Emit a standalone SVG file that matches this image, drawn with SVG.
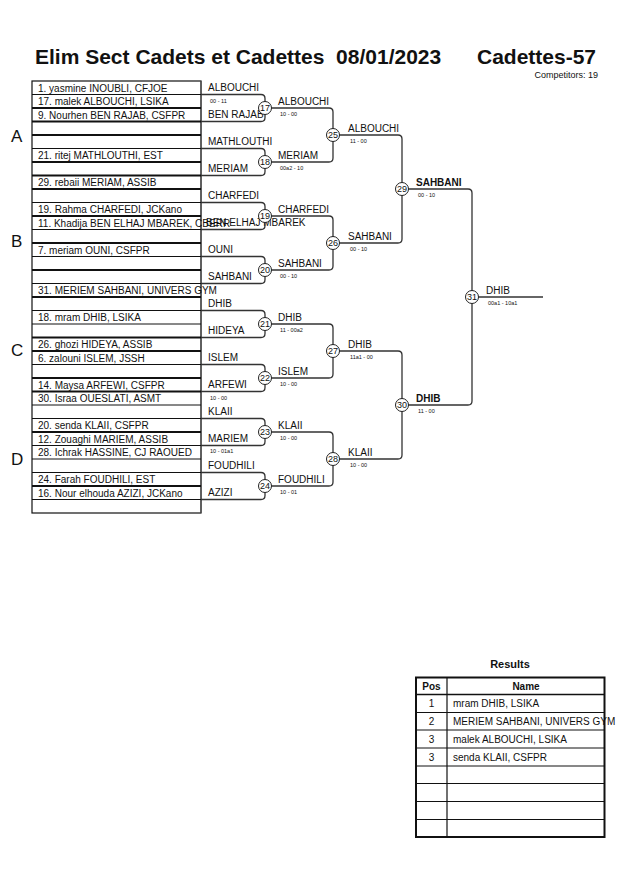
<svg xmlns="http://www.w3.org/2000/svg" width="630" height="891" viewBox="0 0 630 891">
<style>
text{font-family:"Liberation Sans",Arial,sans-serif;fill:#111}
.t{font-size:10px}
.lb{font-size:10px}
.bd{font-weight:bold}
.sc{font-size:5.5px}
.grp{font-size:17px}
.num{font-size:9px;text-anchor:middle}
.br{fill:none;stroke:#333;stroke-width:1.3}
.cir{fill:#fff;stroke:#222;stroke-width:1}
.tl{stroke:#111;stroke-width:1}
.tk{stroke:#111;stroke-width:2}
</style>
<rect width="630" height="891" fill="#fff"/>
<g id="title">
<text x="35" y="64" class="bd" style="font-size:21px;white-space:pre" xml:space="preserve">Elim Sect Cadets et Cadettes  08/01/2023</text>
<text x="477" y="64" class="bd" style="font-size:21px">Cadettes-57</text>
<text x="598" y="78" style="font-size:9px" text-anchor="end">Competitors: 19</text>
</g>
<g id="groups">
<text x="11" y="142" class="grp">A</text>
<text x="11" y="247" class="grp">B</text>
<text x="11" y="356" class="grp">C</text>
<text x="11" y="465" class="grp">D</text>
</g>
<g id="entry-table">
<rect x="32" y="81" width="169" height="432" fill="none" stroke="#111" stroke-width="1.2"/>
<line x1="201" y1="81" x2="201" y2="513" stroke="#555" stroke-width="1.2"/>
<g>
<line class="tl" x1="32" y1="94.5" x2="201" y2="94.5"/>
<line class="tk" x1="32" y1="108" x2="201" y2="108"/>
<line class="tk" x1="32" y1="121.5" x2="201" y2="121.5"/>
<line class="tk" x1="32" y1="135" x2="201" y2="135"/>
<line class="tl" x1="32" y1="148.5" x2="201" y2="148.5"/>
<line class="tk" x1="32" y1="162" x2="201" y2="162"/>
<line class="tk" x1="32" y1="175.5" x2="201" y2="175.5"/>
<line class="tk" x1="32" y1="189" x2="201" y2="189"/>
<line class="tl" x1="32" y1="202.5" x2="201" y2="202.5"/>
<line class="tk" x1="32" y1="216" x2="201" y2="216"/>
<line class="tl" x1="32" y1="229.5" x2="201" y2="229.5"/>
<line class="tk" x1="32" y1="243" x2="201" y2="243"/>
<line class="tl" x1="32" y1="256.5" x2="201" y2="256.5"/>
<line class="tk" x1="32" y1="270" x2="201" y2="270"/>
<line class="tl" x1="32" y1="283.5" x2="201" y2="283.5"/>
<line class="tk" x1="32" y1="297" x2="201" y2="297"/>
<line class="tl" x1="32" y1="310.5" x2="201" y2="310.5"/>
<line class="tl" x1="32" y1="324" x2="201" y2="324"/>
<line class="tk" x1="32" y1="337.5" x2="201" y2="337.5"/>
<line class="tk" x1="32" y1="351" x2="201" y2="351"/>
<line class="tl" x1="32" y1="364.5" x2="201" y2="364.5"/>
<line class="tk" x1="32" y1="378" x2="201" y2="378"/>
<line class="tk" x1="32" y1="391.5" x2="201" y2="391.5"/>
<line class="tl" x1="32" y1="405" x2="201" y2="405"/>
<line class="tl" x1="32" y1="418.5" x2="201" y2="418.5"/>
<line class="tk" x1="32" y1="432" x2="201" y2="432"/>
<line class="tl" x1="32" y1="445.5" x2="201" y2="445.5"/>
<line class="tl" x1="32" y1="459" x2="201" y2="459"/>
<line class="tl" x1="32" y1="472.5" x2="201" y2="472.5"/>
<line class="tk" x1="32" y1="486" x2="201" y2="486"/>
<line class="tl" x1="32" y1="499.5" x2="201" y2="499.5"/>
</g>
<g class="t">
<text x="38" y="91.5" class="t">1. yasmine INOUBLI, CFJOE</text>
<text x="38" y="105" class="t">17. malek ALBOUCHI, LSIKA</text>
<text x="38" y="118.5" class="t">9. Nourhen BEN RAJAB, CSFPR</text>
<text x="38" y="159" class="t">21. ritej MATHLOUTHI, EST</text>
<text x="38" y="186" class="t">29. rebaii MERIAM, ASSIB</text>
<text x="38" y="213" class="t">19. Rahma CHARFEDI, JCKano</text>
<text x="38" y="226.5" class="t">11. Khadija BEN ELHAJ MBAREK, CBERR</text>
<text x="38" y="253.5" class="t">7. meriam OUNI, CSFPR</text>
<text x="38" y="294" class="t">31. MERIEM SAHBANI, UNIVERS GYM</text>
<text x="38" y="321" class="t">18. mram DHIB, LSIKA</text>
<text x="38" y="348" class="t">26. ghozi HIDEYA, ASSIB</text>
<text x="38" y="361.5" class="t">6. zalouni ISLEM, JSSH</text>
<text x="38" y="388.5" class="t">14. Maysa ARFEWI, CSFPR</text>
<text x="38" y="402" class="t">30. Israa OUESLATI, ASMT</text>
<text x="38" y="429" class="t">20. senda KLAII, CSFPR</text>
<text x="38" y="442.5" class="t">12. Zouaghi MARIEM, ASSIB</text>
<text x="38" y="456" class="t">28. Ichrak HASSINE, CJ RAOUED</text>
<text x="38" y="483" class="t">24. Farah FOUDHILI, EST</text>
<text x="38" y="496.5" class="t">16. Nour elhouda AZIZI, JCKano</text>
</g>
</g>
<g id="connectors">
<path class="br" d="M201,94.5H261Q265,94.5 265,98.5V117.5Q265,121.5 261,121.5H201"/>
<path class="br" d="M201,148.5H261Q265,148.5 265,152.5V171.5Q265,175.5 261,175.5H201"/>
<path class="br" d="M201,202.5H261Q265,202.5 265,206.5V225.5Q265,229.5 261,229.5H201"/>
<path class="br" d="M201,256.5H261Q265,256.5 265,260.5V279.5Q265,283.5 261,283.5H201"/>
<path class="br" d="M201,310.5H261Q265,310.5 265,314.5V333.5Q265,337.5 261,337.5H201"/>
<path class="br" d="M201,364.5H261Q265,364.5 265,368.5V387.5Q265,391.5 261,391.5H201"/>
<path class="br" d="M201,418.5H261Q265,418.5 265,422.5V441.5Q265,445.5 261,445.5H201"/>
<path class="br" d="M201,472.5H261Q265,472.5 265,476.5V495.5Q265,499.5 261,499.5H201"/>
<path class="br" d="M271,108H329Q333,108 333,112V158Q333,162 329,162H271"/>
<path class="br" d="M271,216H329Q333,216 333,220V266Q333,270 329,270H271"/>
<path class="br" d="M271,324H329Q333,324 333,328V374Q333,378 329,378H271"/>
<path class="br" d="M271,432H329Q333,432 333,436V482Q333,486 329,486H271"/>
<path class="br" d="M339,135H398Q402,135 402,139V239Q402,243 398,243H339"/>
<path class="br" d="M339,351H398Q402,351 402,355V455Q402,459 398,459H339"/>
<path class="br" d="M408,189H468Q472,189 472,193V401Q472,405 468,405H408"/>
<path class="br" d="M478,297H543"/>
</g>
<g id="round1-labels" class="lb">
<text x="208" y="91" class="lb">ALBOUCHI</text>
<text x="210" y="103" class="sc">00 - 11</text>
<text x="208" y="118" class="lb">BEN RAJAB</text>
<text x="208" y="145" class="lb">MATHLOUTHI</text>
<text x="208" y="172" class="lb">MERIAM</text>
<text x="208" y="199" class="lb">CHARFEDI</text>
<text x="206" y="226" class="lb">BEN ELHAJ MBAREK</text>
<text x="208" y="253" class="lb">OUNI</text>
<text x="208" y="280" class="lb">SAHBANI</text>
<text x="208" y="307" class="lb">DHIB</text>
<text x="208" y="334" class="lb">HIDEYA</text>
<text x="208" y="361" class="lb">ISLEM</text>
<text x="208" y="388" class="lb">ARFEWI</text>
<text x="210" y="400" class="sc">10 - 00</text>
<text x="208" y="415" class="lb">KLAII</text>
<text x="208" y="442" class="lb">MARIEM</text>
<text x="210" y="453" class="sc">10 - 01a1</text>
<text x="208" y="469" class="lb">FOUDHILI</text>
<text x="208" y="496" class="lb">AZIZI</text>
</g>
<g id="round2-labels">
<text x="278" y="105" class="lb">ALBOUCHI</text>
<text x="280" y="116" class="sc">10 - 00</text>
<text x="278" y="159" class="lb">MERIAM</text>
<text x="280" y="170" class="sc">00a2 - 10</text>
<text x="278" y="213" class="lb">CHARFEDI</text>
<text x="278" y="267" class="lb">SAHBANI</text>
<text x="280" y="278" class="sc">00 - 10</text>
<text x="278" y="321" class="lb">DHIB</text>
<text x="280" y="332" class="sc">11 - 00a2</text>
<text x="278" y="375" class="lb">ISLEM</text>
<text x="280" y="386" class="sc">10 - 00</text>
<text x="278" y="429" class="lb">KLAII</text>
<text x="280" y="440" class="sc">10 - 00</text>
<text x="278" y="483" class="lb">FOUDHILI</text>
<text x="280" y="494" class="sc">10 - 01</text>
</g>
<g id="round3-labels">
<text x="348" y="132" class="lb">ALBOUCHI</text>
<text x="350" y="143" class="sc">11 - 00</text>
<text x="348" y="240" class="lb">SAHBANI</text>
<text x="350" y="251" class="sc">00 - 10</text>
<text x="348" y="348" class="lb">DHIB</text>
<text x="350" y="359" class="sc">11a1 - 00</text>
<text x="348" y="456" class="lb">KLAII</text>
<text x="350" y="467" class="sc">10 - 00</text>
</g>
<g id="semifinal-labels">
<text x="416" y="186" class="lb bd">SAHBANI</text>
<text x="418" y="197" class="sc">00 - 10</text>
<text x="416" y="402" class="lb bd">DHIB</text>
<text x="418" y="413" class="sc">11 - 00</text>
</g>
<g id="final-label">
<text x="486" y="294" class="lb">DHIB</text>
<text x="488" y="305" class="sc">00a1 - 10a1</text>
</g>
<g id="m17"><circle class="cir" cx="265" cy="108" r="6.5"/><text x="265" y="111.2" class="num">17</text></g>
<g id="m18"><circle class="cir" cx="265" cy="162" r="6.5"/><text x="265" y="165.2" class="num">18</text></g>
<g id="m19"><circle class="cir" cx="265" cy="216" r="6.5"/><text x="265" y="219.2" class="num">19</text></g>
<g id="m20"><circle class="cir" cx="265" cy="270" r="6.5"/><text x="265" y="273.2" class="num">20</text></g>
<g id="m21"><circle class="cir" cx="265" cy="324" r="6.5"/><text x="265" y="327.2" class="num">21</text></g>
<g id="m22"><circle class="cir" cx="265" cy="378" r="6.5"/><text x="265" y="381.2" class="num">22</text></g>
<g id="m23"><circle class="cir" cx="265" cy="432" r="6.5"/><text x="265" y="435.2" class="num">23</text></g>
<g id="m24"><circle class="cir" cx="265" cy="486" r="6.5"/><text x="265" y="489.2" class="num">24</text></g>
<g id="m25"><circle class="cir" cx="333" cy="135" r="6.5"/><text x="333" y="138.2" class="num">25</text></g>
<g id="m26"><circle class="cir" cx="333" cy="243" r="6.5"/><text x="333" y="246.2" class="num">26</text></g>
<g id="m27"><circle class="cir" cx="333" cy="351" r="6.5"/><text x="333" y="354.2" class="num">27</text></g>
<g id="m28"><circle class="cir" cx="333" cy="459" r="6.5"/><text x="333" y="462.2" class="num">28</text></g>
<g id="m29"><circle class="cir" cx="402" cy="189" r="6.5"/><text x="402" y="192.2" class="num">29</text></g>
<g id="m30"><circle class="cir" cx="402" cy="405" r="6.5"/><text x="402" y="408.2" class="num">30</text></g>
<g id="m31"><circle class="cir" cx="472" cy="297" r="6.5"/><text x="472" y="300.2" class="num">31</text></g>
<g id="results">
<text x="510" y="668" class="bd" style="font-size:11px" text-anchor="middle">Results</text>
<rect x="416" y="677.5" width="188.5" height="159.5" fill="none" stroke="#111" stroke-width="2"/>
<line x1="447" y1="677.5" x2="447" y2="837" stroke="#111" stroke-width="1.2"/>
<line x1="416" y1="694.5" x2="604.5" y2="694.5" stroke="#111" stroke-width="1.5"/>
<line x1="416" y1="712.5" x2="604.5" y2="712.5" class="tl"/>
<line x1="416" y1="730" x2="604.5" y2="730" class="tl"/>
<line x1="416" y1="748" x2="604.5" y2="748" class="tl"/>
<line x1="416" y1="766" x2="604.5" y2="766" class="tl"/>
<line x1="416" y1="783.5" x2="604.5" y2="783.5" class="tl"/>
<line x1="416" y1="801.5" x2="604.5" y2="801.5" class="tl"/>
<line x1="416" y1="819.5" x2="604.5" y2="819.5" class="tl"/>
<text x="431.5" y="690" class="bd" style="font-size:10px" text-anchor="middle">Pos</text>
<text x="526" y="690" class="bd" style="font-size:10px" text-anchor="middle">Name</text>
<text x="431.5" y="707" class="t" text-anchor="middle">1</text>
<text x="453" y="707" class="t">mram DHIB, LSIKA</text>
<text x="431.5" y="725" class="t" text-anchor="middle">2</text>
<text x="453" y="725" class="t">MERIEM SAHBANI, UNIVERS GYM</text>
<text x="431.5" y="743" class="t" text-anchor="middle">3</text>
<text x="453" y="743" class="t">malek ALBOUCHI, LSIKA</text>
<text x="431.5" y="761" class="t" text-anchor="middle">3</text>
<text x="453" y="761" class="t">senda KLAII, CSFPR</text>
</g>
</svg>
